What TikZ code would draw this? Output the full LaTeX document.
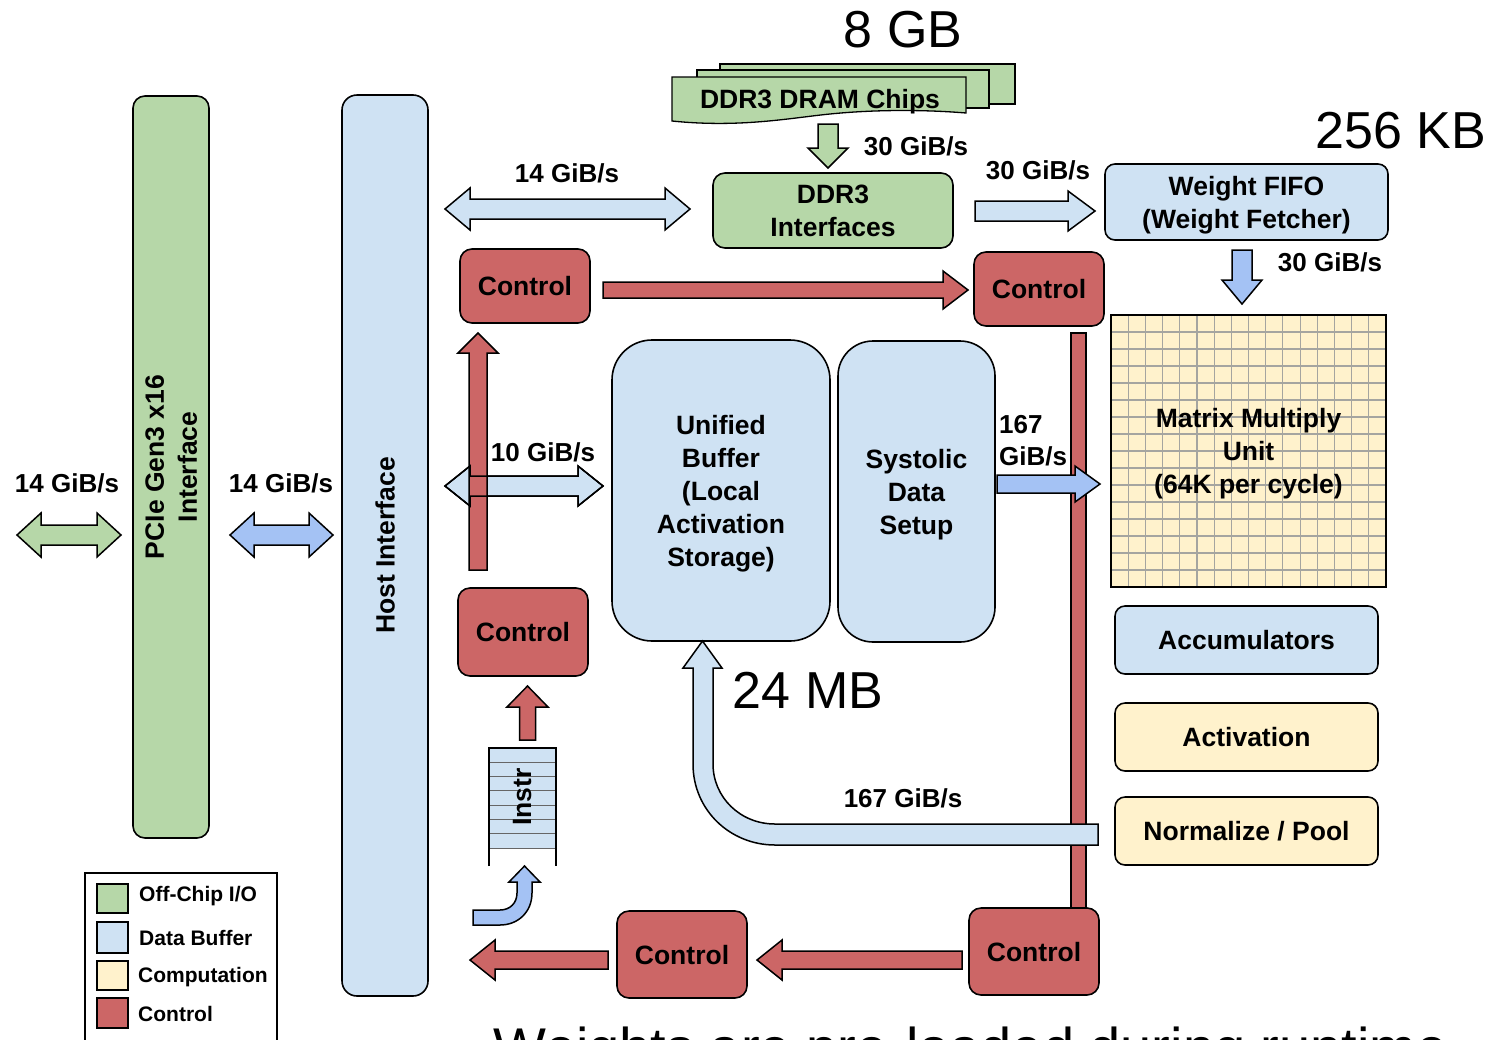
\documentclass[tikz,border=0pt]{standalone}
\usepackage{fontspec}
\setmainfont{Liberation Sans}
\definecolor{cgreen}{RGB}{182,215,168}
\definecolor{cblue}{RGB}{207,226,243}
\definecolor{cbluetwo}{RGB}{164,194,244}
\definecolor{cyellow}{RGB}{255,242,204}
\definecolor{cred}{RGB}{204,102,102}
\definecolor{cgrid}{RGB}{165,165,160}
% block arrows: style, start, end, centre, shaft half, head half, head length (signed)
\newcommand\blkH[7]{\draw[#1] ({#2},{#4-#5}) -- ({#3-(#7)},{#4-#5}) -- ({#3-(#7)},{#4-#6}) -- ({#3},{#4}) -- ({#3-(#7)},{#4+#6}) -- ({#3-(#7)},{#4+#5}) -- ({#2},{#4+#5}) -- cycle;}
\newcommand\blkV[7]{\draw[#1] ({#2-#5},{#3}) -- ({#2-#5},{#4-(#7)}) -- ({#2-#6},{#4-(#7)}) -- ({#2},{#4}) -- ({#2+#6},{#4-(#7)}) -- ({#2+#5},{#4-(#7)}) -- ({#2+#5},{#3}) -- cycle;}
\newcommand\blkD[7]{\draw[#1] ({#2},{#4}) -- ({#2+#7},{#4-#6}) -- ({#2+#7},{#4-#5}) -- ({#3-#7},{#4-#5}) -- ({#3-#7},{#4-#6}) -- ({#3},{#4}) -- ({#3-#7},{#4+#6}) -- ({#3-#7},{#4+#5}) -- ({#2+#7},{#4+#5}) -- ({#2+#7},{#4+#6}) -- cycle;}
\begin{document}
\begin{tikzpicture}[x=1pt,y=-1pt,
  box/.style={draw=black, line width=1.6pt, rounded corners=12pt, align=center, inner sep=0pt,
    text depth=0pt, font=\bfseries\fontsize{26.5}{33}\selectfont},
  arr/.style={draw=black, line width=1.5pt, line join=miter},
  lbl/.style={font=\bfseries\fontsize{26}{32}\selectfont, inner sep=0pt, align=left},
  big/.style={font=\fontsize{52}{60}\selectfont, inner sep=0pt},
  leg/.style={font=\bfseries\fontsize{21}{24}\selectfont, inner sep=0pt, anchor=west}]
\clip (0,0) rectangle (1495,1039);
\fill[white] (0,0) rectangle (1495,1039);

% ---------- big vertical interfaces
\node[box, fill=cgreen, rotate=90, minimum width=742pt, minimum height=76pt] (pcie) at (171,467) {PCIe Gen3 x16\\Interface};
\node[box, fill=cblue, rotate=90, minimum width=901pt, minimum height=86pt, rounded corners=15pt] (host) at (385,545.5) {Host Interface};

% ---------- DRAM chips
\draw[fill=cgreen, line width=1.3pt] (720,64) rectangle (1015,104);
\draw[fill=cgreen, line width=1.3pt] (697,70) rectangle (989,108);
\draw[fill=cgreen, line width=1.3pt] (672,77) -- (966,77) -- (966,113)
   .. controls (930,110) and (880,109) .. (830,114)
   .. controls (790,118) and (740,128) .. (672,121) -- cycle;
\node[box, draw=none, fill=none] (dram) at (820,99) {DDR3 DRAM Chips};
\node[big] (gb) at (903,30) {8 GB};

% ---------- boxes
\node[box, fill=cgreen, minimum width=240pt, minimum height=75pt] (ddrif) at (833,210.5) {DDR3\\Interfaces};
\node[box, fill=cblue, minimum width=283pt, minimum height=76pt, rounded corners=10pt] (wfifo) at (1246.5,202) {Weight FIFO\\(Weight Fetcher)};
\node[big] (kb) at (1401,131) {256 KB};

\node[box, fill=cred, minimum width=130pt, minimum height=74pt] (ctlA) at (525,286) {Control};
\node[box, fill=cred, minimum width=130pt, minimum height=74pt] (ctlB) at (1039,289) {Control};
\node[box, fill=cred, minimum width=130pt, minimum height=88pt] (ctlC) at (523,632) {Control};
\node[box, fill=cred, minimum width=130pt, minimum height=87pt] (ctlD) at (1034,951.5) {Control};
\node[box, fill=cred, minimum width=130pt, minimum height=87pt] (ctlE) at (682,954.5) {Control};

\node[box, fill=cblue, minimum width=218pt, minimum height=301pt, rounded corners=40pt] (ub) at (721,490.5) {Unified\\Buffer\\(Local\\Activation\\Storage)};
\node[box, fill=cblue, minimum width=157pt, minimum height=301pt, rounded corners=35pt] (sds) at (916.5,491.5) {Systolic\\Data\\Setup};

% matrix multiply unit with grid
\fill[cyellow] (1111,315) rectangle (1386,587);
\foreach \i in {1,...,15}{
  \draw[cgrid, line width=1.1pt] ({1111+\i*17.1875},315) -- ({1111+\i*17.1875},587);
  \draw[cgrid, line width=1.1pt] (1111,{315+\i*17}) -- (1386,{315+\i*17});
}
\node[box, rounded corners=0pt, minimum width=275pt, minimum height=272pt] (mmu) at (1248.5,451) {Matrix Multiply\\Unit\\(64K per cycle)};

\node[box, fill=cblue, minimum width=263pt, minimum height=68pt, rounded corners=10pt] (acc) at (1246.5,640) {Accumulators};
\node[box, fill=cyellow, minimum width=263pt, minimum height=68pt, rounded corners=10pt] (act) at (1246.5,737) {Activation};
\node[box, fill=cyellow, minimum width=263pt, minimum height=68pt, rounded corners=10pt] (norm) at (1246.5,831) {Normalize / Pool};

% ---------- instruction buffer
\fill[cblue] (489,748) rectangle (556,848);
\foreach \k in {0,...,7}{ \draw[black!60, line width=1pt] (489,{748+\k*14.3}) -- (556,{748+\k*14.3}); }
\draw[line width=1.4pt] (489,866) -- (489,748) -- (556,748) -- (556,866);
\node[box, draw=none, rotate=90] (instr) at (522,797) {Instr};

% ---------- arrows
\blkV{arr, fill=cgreen}{828}{124}{168}{10}{20}{20}
\node[lbl] (l30a) at (916,146) {30 GiB/s};
\blkD{arr, fill=cblue}{445}{690}{209}{10}{21}{25}
\node[lbl] (l14a) at (567,173) {14 GiB/s};
\blkH{arr, fill=cblue}{975}{1095}{211}{10}{20}{27}
\node[lbl] (l30b) at (1038,170) {30 GiB/s};
\blkV{arr, fill=cbluetwo}{1242}{250}{304}{10}{20}{24}
\node[lbl] (l30c) at (1330,262) {30 GiB/s};

\blkH{arr, fill=cred}{603}{968}{290}{8}{19}{25}

% 10 GiB/s crossing the red upward arrow
\blkD{arr, fill=cblue}{445}{603}{486}{10}{20}{25}
\blkV{arr, fill=cred}{478}{570}{333}{9}{20}{-20}
\blkD{arr}{445}{603}{486}{10}{20}{25}
\node[lbl] (l10) at (543,452) {10 GiB/s};

% red bar from control to control
\draw[arr, fill=cred] (1071,333) rectangle (1086,908);

\blkH{arr, fill=cbluetwo}{997}{1100}{484}{9}{18}{25}
\node[lbl, anchor=west] (l167a) at (999,441) {167\\GiB/s};

% big return arrow to unified buffer
\draw[arr, fill=cblue] (1098,824) -- (775,824)
   .. controls (740,824) and (713,797) .. (713,764) -- (713,668) -- (722,668) -- (702.5,641)
   -- (683,668) -- (693,668) -- (693,764)
   .. controls (693,810) and (730,845) .. (775,845) -- (1098,845) -- cycle;
\node[lbl] (l167b) at (903,798) {167 GiB/s};
\node[big] (mb) at (808,690) {24 MB};

\blkV{arr, fill=cred}{527.5}{740}{686}{8}{20.5}{-21}
\draw[arr, fill=cbluetwo] (473,910) -- (500,910) .. controls (510,910) and (517,903) .. (517,893)
   -- (517,882) -- (509,882) -- (524.5,866) -- (540,882) -- (532,882) -- (532,893)
   .. controls (532,912) and (518,925) .. (500,925) -- (473,925) -- cycle;

\blkH{arr, fill=cred}{962}{757}{960}{9}{20}{-25}
\blkH{arr, fill=cred}{608}{470}{960}{9}{20}{-25}

% left double arrows
\blkD{arr, fill=cgreen}{17}{121}{535}{10}{22}{24}
\blkD{arr, fill=cbluetwo}{230}{333}{535}{10}{22}{24}
\node[lbl] (l14b) at (67,483) {14 GiB/s};
\node[lbl] (l14c) at (281,483) {14 GiB/s};

% ---------- legend
\draw[line width=1.5pt] (85,1060) -- (85,873) -- (277,873) -- (277,1060);
\draw[line width=1.4pt, fill=cgreen] (97,884) rectangle (128,913);
\draw[line width=1.4pt, fill=cblue] (97,922) rectangle (128,953);
\draw[line width=1.4pt, fill=cyellow] (97,961) rectangle (128,990);
\draw[line width=1.4pt, fill=cred] (97,998) rectangle (128,1028);
\node[leg] (lg1) at (139,896) {Off-Chip I/O};
\node[leg] (lg2) at (139,938) {Data Buffer};
\node[leg] (lg3) at (138,977) {Computation};
\node[leg] (lg4) at (138,1014) {Control};

% ---------- caption at the bottom, cut off by the picture's lower edge as in the reference
\node[font=\fontsize{56}{64}\selectfont, inner sep=0pt, anchor=base west] (cap) at (493,1067) {Weights are pre-loaded during runtime};
\end{tikzpicture}
\end{document}
